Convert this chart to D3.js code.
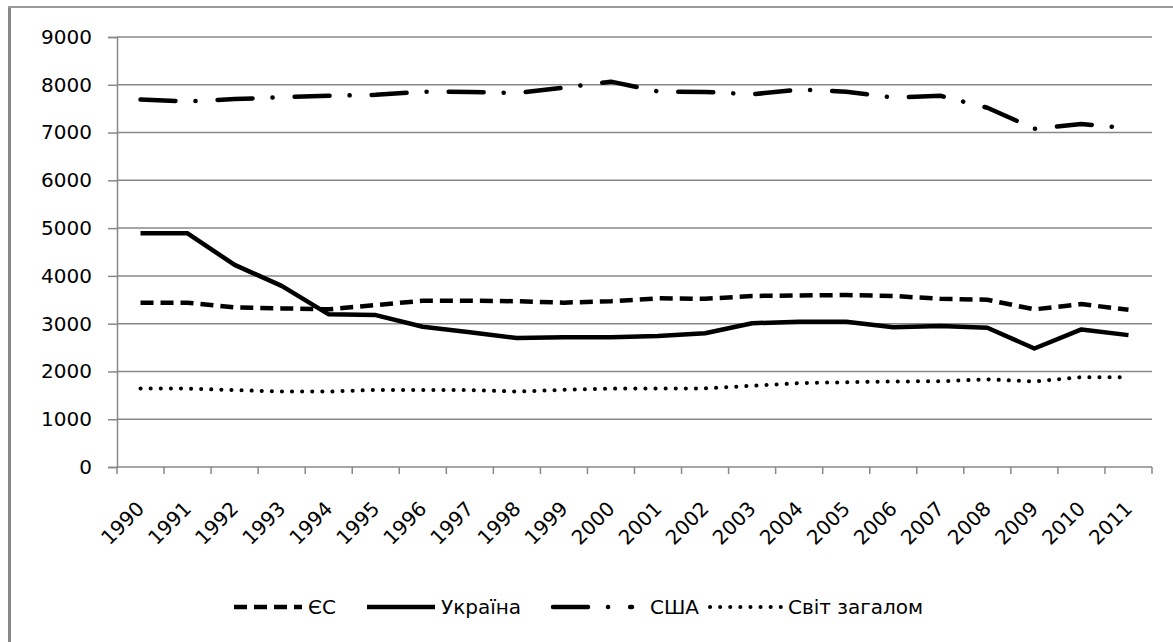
<!DOCTYPE html>
<html>
<head>
<meta charset="utf-8">
<script src="https://cdn.jsdelivr.net/npm/d3@7"></script>
<style>
  body { margin: 0; background: #fff; }
  text { font-family: "DejaVu Sans", sans-serif; fill: #000; }
</style>
</head>
<body>
<script>
// years on the x axis
const years = d3.range(1990, 2012).map(String);

// series values
const es      = [3440, 3440, 3340, 3320, 3300, 3390, 3480, 3480, 3470, 3440, 3470, 3530, 3520, 3580, 3590, 3600, 3580, 3520, 3500, 3300, 3410, 3290];
const ukraine = [4890, 4890, 4230, 3790, 3195, 3180, 2935, 2820, 2700, 2715, 2715, 2740, 2800, 3010, 3040, 3040, 2925, 2950, 2915, 2480, 2880, 2760];
const usa     = [7690, 7650, 7700, 7740, 7770, 7790, 7855, 7850, 7830, 7940, 8065, 7860, 7850, 7800, 7900, 7855, 7735, 7770, 7520, 7080, 7180, 7090];
const world   = [1645, 1640, 1610, 1580, 1580, 1615, 1610, 1610, 1580, 1615, 1640, 1645, 1645, 1700, 1755, 1775, 1790, 1795, 1835, 1790, 1880, 1880];

const yTicks = d3.range(0, 9001, 1000);

const series = [
  {name: "ЄС", values: es, width: 4.5, dash: "13 7", cap: "butt"},
  {name: "Україна", values: ukraine, width: 4.5, dash: null, cap: "butt"},
  {name: "США", values: usa, width: 4.5, dash: "35 20 0.1 22", cap: "round"},
  {name: "Світ загалом", values: world, width: 4, dash: "0.1 10", cap: "round"}
];

const W = 1173, H = 642;
const margin = {top: 37, left: 117, right: W - 1152, bottom: H - 467};

const svg = d3.select("body").append("svg")
    .attr("width", W)
    .attr("height", H);

// outer frame (only left and top edge show in the picture)
svg.append("line").attr("x1", 9.5).attr("x2", 9.5).attr("y1", 6).attr("y2", H)
    .attr("stroke", "#888").attr("stroke-width", 3);
svg.append("line").attr("x1", 8).attr("x2", W).attr("y1", 7).attr("y2", 7)
    .attr("stroke", "#999").attr("stroke-width", 2);

let x = d3.scaleBand()
    .domain(years)
    .range([margin.left, W - margin.right]);

let y = d3.scaleLinear()
    .domain([0, 9000])
    .range([H - margin.bottom, margin.top]);

// grid + y axis
let yAxis = svg.append("g")
    .attr("transform", "translate(" + margin.left + ",0)")
    .call(d3.axisLeft(y).tickValues(yTicks).tickSize(9).tickPadding(16).tickFormat(d3.format("d")));
yAxis.select(".domain").attr("stroke", "#888").attr("stroke-width", 1.5);
yAxis.selectAll(".tick line").attr("stroke", "#888").attr("stroke-width", 1.5);
yAxis.selectAll(".tick text").attr("font-size", "20px").attr("font-family", "DejaVu Sans").attr("fill", "#000");

svg.append("g")
    .selectAll("line")
    .data(yTicks)
    .enter()
    .append("line")
    .attr("x1", margin.left)
    .attr("x2", W - margin.right)
    .attr("y1", d => y(d))
    .attr("y2", d => y(d))
    .attr("stroke", "#888")
    .attr("stroke-width", 1.5);

// x axis: ticks at category boundaries
let xAxis = svg.append("g")
    .attr("transform", "translate(0," + y(0) + ")");
xAxis.selectAll("line")
    .data(years.concat(["end"]))
    .enter()
    .append("line")
    .attr("x1", (d, i) => margin.left + i * x.step())
    .attr("x2", (d, i) => margin.left + i * x.step())
    .attr("y1", 0)
    .attr("y2", 7)
    .attr("stroke", "#888")
    .attr("stroke-width", 1.5);

xAxis.selectAll("text")
    .data(years)
    .enter()
    .append("text")
    .attr("transform", d => "translate(" + (x(d) + x.bandwidth() / 2 + 5) + ",43) rotate(-45)")
    .attr("text-anchor", "end")
    .attr("font-size", "20px")
    .text(d => d);

// lines
let line = d3.line()
    .x((d, i) => x(years[i]) + x.bandwidth() / 2)
    .y(d => y(d));

svg.append("g")
    .selectAll("path")
    .data(series)
    .enter()
    .append("path")
    .attr("d", d => line(d.values))
    .attr("fill", "none")
    .attr("stroke", "#000")
    .attr("stroke-width", d => d.width)
    .attr("stroke-dasharray", d => d.dash)
    .attr("stroke-linecap", d => d.cap)
    .attr("stroke-linejoin", "round");

// legend
const legendX = [234, 367, 553, 710];
let legend = svg.append("g")
    .selectAll("g")
    .data(series)
    .enter()
    .append("g")
    .attr("transform", (d, i) => "translate(" + legendX[i] + ",607)");

legend.append("line")
    .attr("x1", 0)
    .attr("x2", d => d.name === "США" ? 79 : (d.name === "Світ загалом" ? 72 : 68))
    .attr("y1", 0)
    .attr("y2", 0)
    .attr("stroke", "#000")
    .attr("stroke-width", d => d.width)
    .attr("stroke-dasharray", d => d.dash)
    .attr("stroke-linecap", d => d.cap);

legend.append("text")
    .attr("x", d => d.name === "США" ? 97 : (d.name === "Світ загалом" ? 78 : 74))
    .attr("y", 7)
    .attr("font-size", "20px")
    .text(d => d.name);
</script>
</body>
</html>
